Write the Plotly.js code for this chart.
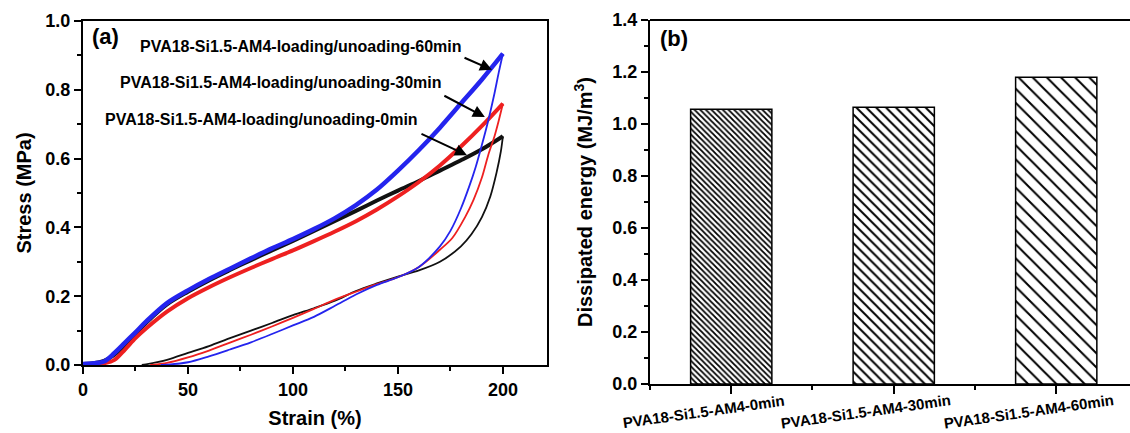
<!DOCTYPE html>
<html>
<head>
<meta charset="utf-8">
<script src="https://cdn.plot.ly/plotly-3.0.1.min.js"></script>
<style>html,body{margin:0;padding:0;background:#fff}#chart{width:1130px;height:433px}</style>
</head>
<body>
<div id="chart"></div>
<script>
// ---------- Panel (a): stress-strain loading/unloading cycles ----------
const strainLoad = [0, 5, 10, 15, 20, 25, 30, 40, 50, 60, 70, 80, 90, 100, 110, 120, 130, 140, 150, 160, 170, 180, 190, 200];
const stressLoad0 = [0.003, 0.005, 0.012, 0.03, 0.058, 0.09, 0.122, 0.176, 0.213, 0.246, 0.276, 0.305, 0.333, 0.361, 0.39, 0.419, 0.448, 0.478, 0.507, 0.535, 0.565, 0.595, 0.627, 0.665];
const stressLoad30 = [0.002, 0.003, 0.005, 0.015, 0.045, 0.078, 0.106, 0.155, 0.194, 0.226, 0.255, 0.282, 0.308, 0.333, 0.36, 0.388, 0.418, 0.452, 0.49, 0.532, 0.58, 0.635, 0.695, 0.76];
const stressLoad60 = [0.003, 0.005, 0.01, 0.035, 0.065, 0.095, 0.126, 0.18, 0.217, 0.25, 0.28, 0.31, 0.339, 0.366, 0.395, 0.427, 0.465, 0.51, 0.565, 0.625, 0.69, 0.76, 0.83, 0.905];

const strainUnload0 = [200, 199, 197, 194, 190, 185, 180, 170, 160, 150, 140, 130, 120, 110, 100, 90, 80, 70, 60, 50, 40, 30, 28];
const stressUnload0 = [0.665, 0.62, 0.56, 0.49, 0.43, 0.38, 0.345, 0.3, 0.275, 0.257, 0.237, 0.215, 0.187, 0.165, 0.145, 0.122, 0.1, 0.078, 0.055, 0.035, 0.015, 0.002, 0];
const strainUnload30 = [200, 198, 196, 193, 190, 186, 182, 176, 170, 160, 150, 140, 130, 120, 110, 100, 90, 80, 70, 60, 50, 40, 34, 32];
const stressUnload30 = [0.76, 0.71, 0.665, 0.61, 0.545, 0.48, 0.43, 0.37, 0.335, 0.285, 0.255, 0.235, 0.213, 0.19, 0.163, 0.137, 0.112, 0.088, 0.065, 0.042, 0.022, 0.006, 0.001, 0];
const strainUnload60 = [200, 198, 196, 193, 190, 187, 184, 180, 175, 170, 160, 150, 140, 130, 120, 110, 100, 90, 80, 70, 60, 50, 40, 37];
const stressUnload60 = [0.905, 0.85, 0.79, 0.71, 0.64, 0.575, 0.52, 0.455, 0.39, 0.345, 0.285, 0.255, 0.233, 0.205, 0.172, 0.14, 0.115, 0.09, 0.066, 0.045, 0.025, 0.008, 0.001, 0];

const curveLabels = ["PVA18-Si1.5-AM4-loading/unoading-0min", "PVA18-Si1.5-AM4-loading/unoading-30min", "PVA18-Si1.5-AM4-loading/unoading-60min"];
const curveColors = ["#111111", "#ee2020", "#2424ee"];

// ---------- Panel (b): dissipated energy ----------
const categories = ["PVA18-Si1.5-AM4-0min", "PVA18-Si1.5-AM4-30min", "PVA18-Si1.5-AM4-60min"];
const dissipated = [1.057, 1.064, 1.18];

const FONT = "Liberation Sans, Arial, Helvetica, sans-serif";
const W = 1130, H = 433;

function lineTrace(x, y, color, width, name) {
  return {type: "scatter", mode: "lines", x: x, y: y, name: name,
          line: {color: color, width: width, shape: "spline", smoothing: 0.9},
          xaxis: "x", yaxis: "y", showlegend: false, hoverinfo: "skip"};
}

const traces = [
  lineTrace(strainLoad, stressLoad0, curveColors[0], 4, curveLabels[0] + " loading"),
  lineTrace(strainUnload0, stressUnload0, curveColors[0], 1.8, curveLabels[0] + " unloading"),
  lineTrace(strainLoad, stressLoad30, curveColors[1], 4, curveLabels[1] + " loading"),
  lineTrace(strainUnload30, stressUnload30, curveColors[1], 1.8, curveLabels[1] + " unloading"),
  lineTrace(strainLoad, stressLoad60, curveColors[2], 4.5, curveLabels[2] + " loading"),
  lineTrace(strainUnload60, stressUnload60, curveColors[2], 1.8, curveLabels[2] + " unloading"),
  {
    type: "bar", xaxis: "x2", yaxis: "y2", showlegend: false,
    x: categories.map((c, i) => i), y: dissipated, width: 0.5,
    text: categories, hoverinfo: "text+y", textposition: "none",
    marker: {
      color: "#ffffff",
      line: {color: "#000000", width: 1.5},
      pattern: {shape: "\\", size: [4, 7, 10], solidity: [0.45, 0.28, 0.2],
                fgcolor: "#000000", bgcolor: "#ffffff", fillmode: "replace"}
    }
  }
];

const tickFont = {family: FONT, size: 18, color: "#000", weight: 700};
const titleFont = {family: FONT, size: 20, color: "#000", weight: 700};

const annotations = [
  {xref: "x", yref: "y", x: 10.5, y: 0.955, text: "(a)", showarrow: false,
   font: {family: FONT, size: 22, color: "#000", weight: 700}, xanchor: "center", yanchor: "middle"},
  {xref: "x2", yref: "y2", x: -0.35, y: 1.33, text: "(b)", showarrow: false,
   font: {family: FONT, size: 22, color: "#000", weight: 700}, xanchor: "center", yanchor: "middle"},
  // curve labels
  {xref: "x", yref: "y", x: 26.2, y: 0.927, text: curveLabels[2], showarrow: false, xanchor: "left", yanchor: "middle",
   font: {family: FONT, size: 16, color: "#000", weight: 700}},
  {xref: "x", yref: "y", x: 16.7, y: 0.82, text: curveLabels[1], showarrow: false, xanchor: "left", yanchor: "middle",
   font: {family: FONT, size: 16, color: "#000", weight: 700}},
  {xref: "x", yref: "y", x: 9.5, y: 0.715, text: curveLabels[0], showarrow: false, xanchor: "left", yanchor: "middle",
   font: {family: FONT, size: 16, color: "#000", weight: 700}},
  // arrows
  {xref: "x", yref: "y", axref: "x", ayref: "y", x: 194.8, y: 0.858, ax: 181, ay: 0.895, text: "",
   showarrow: true, arrowhead: 2, arrowsize: 1.2, arrowwidth: 2, arrowcolor: "#000"},
  {xref: "x", yref: "y", axref: "x", ayref: "y", x: 191.4, y: 0.721, ax: 171.4, ay: 0.785, text: "",
   showarrow: true, arrowhead: 2, arrowsize: 1.2, arrowwidth: 2, arrowcolor: "#000"},
  {xref: "x", yref: "y", axref: "x", ayref: "y", x: 182.9, y: 0.61, ax: 160.5, ay: 0.674, text: "",
   showarrow: true, arrowhead: 2, arrowsize: 1.2, arrowwidth: 2, arrowcolor: "#000"}
];
// category labels for panel (b), slanted
categories.forEach((c, i) => {
  annotations.push({xref: "x2", yref: "paper", x: i, y: 1 - 411 / H, xshift: -28, text: c, showarrow: false,
    textangle: -8, xanchor: "center", yanchor: "middle",
    font: {family: FONT, size: 15, color: "#000", weight: 700}});
});

const layout = {
  width: W, height: H,
  margin: {l: 0, r: 0, t: 0, b: 0},
  paper_bgcolor: "#fff", plot_bgcolor: "#fff",
  showlegend: false,
  xaxis: {
    domain: [83 / W, 547 / W], range: [0, 221], anchor: "y",
    showgrid: false, zeroline: false, showline: true, linecolor: "#000", linewidth: 2, mirror: true,
    ticks: "outside", ticklen: 7, tickwidth: 2, tickcolor: "#000",
    tickmode: "linear", tick0: 0, dtick: 50,
    minor: {ticks: "outside", ticklen: 4, tickwidth: 2, tickcolor: "#000", dtick: 25, tick0: 0, showgrid: false},
    tickfont: tickFont,
    title: {text: "Strain (%)", font: titleFont, standoff: 12}
  },
  yaxis: {
    domain: [1 - 365 / H, 1 - 21 / H], range: [0, 1], anchor: "x",
    showgrid: false, zeroline: false, showline: true, linecolor: "#000", linewidth: 2, mirror: true,
    ticks: "outside", ticklen: 7, tickwidth: 2, tickcolor: "#000",
    tickmode: "linear", tick0: 0, dtick: 0.2, tickformat: ".1f",
    minor: {ticks: "outside", ticklen: 4, tickwidth: 2, tickcolor: "#000", dtick: 0.1, tick0: 0, showgrid: false},
    tickfont: tickFont,
    title: {text: "Stress (MPa)", font: titleFont, standoff: 8}
  },
  xaxis2: {
    domain: [650 / W, 1], range: [-0.5, 2.454], anchor: "y2",
    showgrid: false, zeroline: false, showline: true, linecolor: "#000", linewidth: 2, mirror: false,
    ticks: "outside", ticklen: 8, tickwidth: 2, tickcolor: "#000",
    tickmode: "linear", tick0: 0, dtick: 1, showticklabels: false,
    minor: {ticks: "outside", ticklen: 4, tickwidth: 2, tickcolor: "#000", dtick: 0.5, tick0: 0, showgrid: false}
  },
  yaxis2: {
    domain: [1 - 384 / H, 1 - 20 / H], range: [0, 1.4], anchor: "x2",
    showgrid: false, zeroline: false, showline: true, linecolor: "#000", linewidth: 2, mirror: false,
    ticks: "outside", ticklen: 7, tickwidth: 2, tickcolor: "#000",
    tickmode: "linear", tick0: 0, dtick: 0.2, tickformat: ".1f",
    minor: {ticks: "outside", ticklen: 4, tickwidth: 2, tickcolor: "#000", dtick: 0.1, tick0: 0, showgrid: false},
    tickfont: tickFont,
    title: {text: "Dissipated energy (MJ/m<sup>3</sup>)", font: titleFont, standoff: 14}
  },
  shapes: [
    {type: "line", xref: "x2 domain", yref: "y2 domain", x0: 0, x1: 1, y0: 1, y1: 1,
     line: {color: "#000", width: 2}}
  ],
  annotations: annotations
};

Plotly.newPlot("chart", traces, layout, {staticPlot: true, displayModeBar: false});
</script>
</body>
</html>
